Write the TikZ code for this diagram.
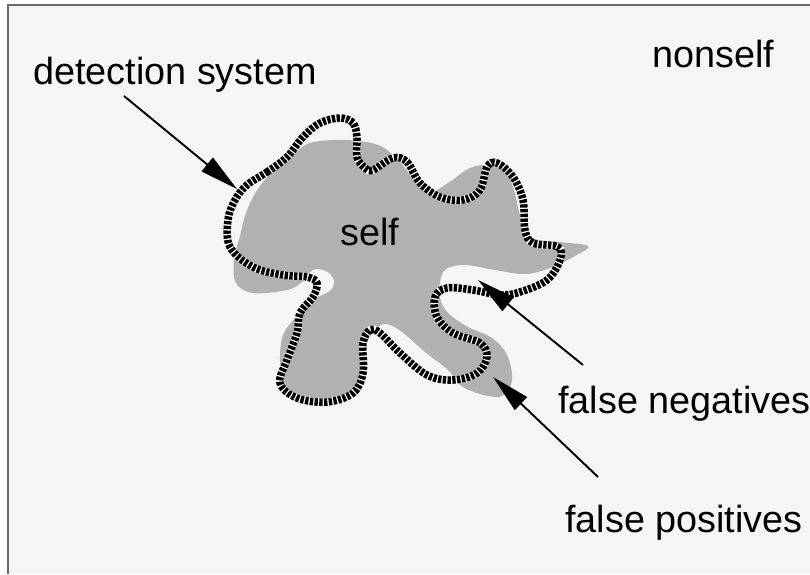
\documentclass[tikz,border=0pt]{standalone}
\usepackage{fontspec}
\setmainfont{Liberation Sans}
\usetikzlibrary{arrows.meta}
\definecolor{paper}{RGB}{245,245,245}
\definecolor{selfgray}{RGB}{178,176,178}
\definecolor{framegray}{RGB}{105,105,105}
\begin{document}
\begin{tikzpicture}[x=.02cm,y=-.02cm,
  lbl/.style={anchor=base west,inner sep=0pt,font=\fontsize{21.5}{24}\selectfont},
  pointer/.style={line width=1.1pt,-{Triangle[length=22pt,width=10pt]}},
  rim/.style={draw=white,line width=4.3pt,postaction={draw=black,line width=4.3pt,dash pattern=on 1.9pt off 0.8pt}}]
\useasboundingbox (0,0) rectangle (810,574);
\fill[white] (0,0) rectangle (810,574);
\fill[paper] (8,5) rectangle (810,574);
\draw[framegray,line width=1.2pt] (8,574) -- (8,5) -- (810,5);
% self region
\fill[selfgray] plot[smooth cycle,tension=.6] coordinates {(234,260) (240,236) (246,213) (256,192) (272,172) (292,156) (310,143) (345,140) (378,145) (398,160) (413,178) (428,193) (448,183) (470,168) (490,165) (505,172) (514,190) (520,215) (530,237) (560,242) (588,246) (575,256) (550,268) (525,274) (495,270) (465,265) (446,269) (440,282) (440,298) (448,313) (468,327) (492,338) (507,355) (512,380) (502,396) (480,394) (460,385) (448,370) (425,352) (402,332) (386,324) (375,330) (366,345) (362,372) (352,390) (327,398) (300,395) (284,383) (280,360) (283,335) (295,318) (308,302) (320,296) (331,290) (334,280) (326,271) (313,270) (302,282) (287,290) (253,293) (236,283)};
% detection system
\draw[rim] plot[smooth cycle,tension=.6] coordinates {(247,185) (267,172) (287,157) (303,137) (320,123) (340,118) (353,123) (357,137) (357,157) (365,168) (373,170) (393,158) (407,162) (420,183) (440,197) (463,200) (480,190) (487,167) (497,163) (513,177) (523,200) (525,230) (533,243) (558,247) (560,260) (547,280) (520,292) (500,295) (473,290) (447,288) (435,297) (437,317) (453,333) (480,343) (487,357) (477,373) (453,380) (427,375) (400,353) (380,333) (370,330) (363,343) (363,373) (353,393) (327,402) (297,398) (280,383) (287,360) (297,333) (300,313) (313,297) (317,283) (307,277) (283,275) (253,267) (230,247) (228,220) (235,200)};
\node[lbl] (self) at (340,245) {self};
\node[lbl] (nonself) at (652,68) {nonself};
\node[lbl] (detsys) at (33,85) {detection system};
\node[lbl] (falseneg) at (558,413) {false negatives};
\node[lbl] (falsepos) at (565,532) {false positives};
\coordinate (dtail) at (124,96);
\coordinate (dtip) at (237,189);
\coordinate (ntail) at (583,365);
\coordinate (ntip) at (478,280);
\coordinate (ptail) at (598,477);
\coordinate (ptip) at (493,377);
\draw[pointer] (dtail) -- (dtip);
\draw[pointer] (ntail) -- (ntip);
\draw[pointer] (ptail) -- (ptip);
\end{tikzpicture}
\end{document}
